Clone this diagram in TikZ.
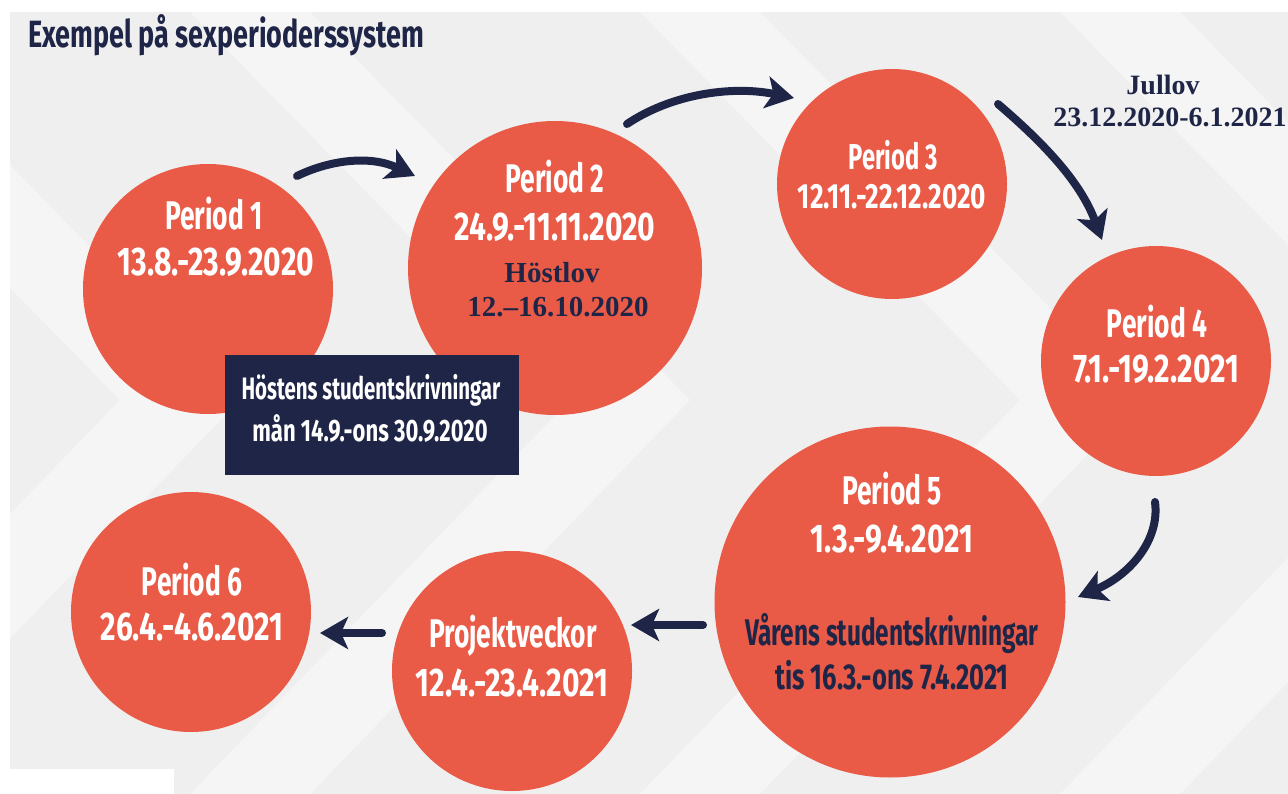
\documentclass[tikz,border=0pt]{standalone}
\usepackage{fontspec}
\usetikzlibrary{arrows.meta}
\newfontfamily\condf[FakeStretch=0.66]{Fira Sans}
\newfontfamily\condm[FakeStretch=0.71]{Fira Sans}
\newfontfamily\condd[FakeStretch=0.75]{Fira Sans}
\newfontfamily\serf{Liberation Serif}
\definecolor{coral}{HTML}{E95A47}
\definecolor{navy}{HTML}{1F2547}
\definecolor{bggray}{HTML}{EFEFEF}
\begin{document}
\begin{tikzpicture}[x=1pt,y=-1pt,
  circ/.style={circle, fill=coral, inner sep=0pt},
  big/.style={inner sep=0pt, text=white, font=\condf\bfseries\fontsize{40}{44}\selectfont},
  bigd/.style={inner sep=0pt, text=white, font=\condd\bfseries\fontsize{40}{44}\selectfont},
  mid/.style={inner sep=0pt, font=\condm\bfseries\fontsize{31}{34}\selectfont},
  ser/.style={inner sep=0pt, text=navy, font=\serf\bfseries\fontsize{29}{32}\selectfont},
  arr/.style={draw=navy, line width=8pt, line cap=round, -{Stealth[length=28pt,width=32pt,inset=7pt]}},
  band/.style={fill=white, opacity=0.4}]
\useasboundingbox (0,0) rectangle (1288,794);
% background
\fill[white] (0,0) rectangle (1288,794);
\fill[bggray] (10,12) rectangle (1288,794);
\foreach \o in {-260,190,640,1060}{
  \fill[band] (\o,12) -- (\o+120,12) -- (\o+500,400) -- (\o+120,794) -- (\o,794) -- (\o+380,400) -- cycle;
}
\fill[white] (10,769) rectangle (174,794);
% title
\node[inner sep=0pt, anchor=west, text=navy, font=\condm\bfseries\fontsize{38}{42}\selectfont] (title) at (28,35) {Exempel på sexperioderssystem};
% circles
\node[circ, minimum size=250pt] (p1) at (208,289) {};
\node[circ, minimum size=294pt] (p2) at (555,268) {};
\node[circ, minimum size=230pt] (p3) at (892,184) {};
\node[circ, minimum size=230pt] (p4) at (1156,361) {};
\node[circ, minimum size=351pt] (p5) at (890,602) {};
\node[circ, minimum size=240pt] (pv) at (512,671) {};
\node[circ, minimum size=240pt] (p6) at (191,612) {};
% box
\node[fill=navy, minimum width=294pt, minimum height=120pt, inner sep=0pt] (box) at (372,415) {};
\node[mid, text=white, font=\condf\bfseries\fontsize{31}{34}\selectfont] (boxa) at (371,390) {Höstens studentskrivningar};
\node[mid, text=white] (boxb) at (370,428) {mån 14.9.-ons 30.9.2020};
% circle texts
\node[big] (p1a) at (214,214) {Period 1};
\node[bigd] (p1b) at (216,262) {13.8.-23.9.2020};
\node[big] (p2a) at (555,177) {Period 2};
\node[bigd] (p2b) at (555,227) {24.9.-11.11.2020};
\node[ser] (p2c) at (552,273) {Höstlov};
\node[ser] (p2d) at (558,307) {12.–16.10.2020};
\node[big, font=\condf\bfseries\fontsize{36}{40}\selectfont] (p3a) at (893,155) {Period 3};
\node[bigd, font=\condd\bfseries\fontsize{35}{40}\selectfont] (p3b) at (892,197) {12.11.-22.12.2020};
\node[ser, font=\serf\bfseries\fontsize{28}{32}\selectfont] (jul1) at (1163,85) {Jullov};
\node[ser, font=\serf\bfseries\fontsize{28}{32}\selectfont] (jul2) at (1170,117) {23.12.2020-6.1.2021};
\node[big] (p4a) at (1157,322) {Period 4};
\node[bigd] (p4b) at (1156,369) {7.1.-19.2.2021};
\node[big] (p5a) at (892,489) {Period 5};
\node[bigd] (p5b) at (892,539) {1.3.-9.4.2021};
\node[mid, text=navy, font=\condf\bfseries\fontsize{37}{40}\selectfont] (p5c) at (892,634) {Vårens studentskrivningar};
\node[mid, text=navy, font=\condm\bfseries\fontsize{36}{40}\selectfont] (p5d) at (892,675) {tis 16.3.-ons 7.4.2021};
\node[big] (pva) at (513,636) {Projektveckor};
\node[bigd] (pvb) at (512,683) {12.4.-23.4.2021};
\node[big] (p6a) at (192,580) {Period 6};
\node[bigd] (p6b) at (192,627) {26.4.-4.6.2021};
% arrow ends
\coordinate (a1s) at (297,176);
\coordinate (a1e) at (415,176);
\coordinate (a2s) at (627,124);
\coordinate (a2e) at (794,98);
\coordinate (a3s) at (998,104);
\coordinate (a3e) at (1102,240);
\coordinate (a4s) at (1155,502);
\coordinate (a4e) at (1078,597);
\coordinate (a5s) at (703,625);
\coordinate (a5e) at (631,625);
\coordinate (a6s) at (382,633);
\coordinate (a6e) at (320,633);
% arrows
\draw[arr] (a1s) .. controls (330,160) and (370,155) .. (a1e);
\draw[arr] (a2s) .. controls (670,95) and (730,85) .. (a2e);
\draw[arr] (a3s) .. controls (1040,140) and (1080,180) .. (a3e);
\draw[arr] (a4s) .. controls (1160,540) and (1130,575) .. (a4e);
\draw[arr] (a5s) -- (a5e);
\draw[arr] (a6s) -- (a6e);
\end{tikzpicture}
\end{document}
